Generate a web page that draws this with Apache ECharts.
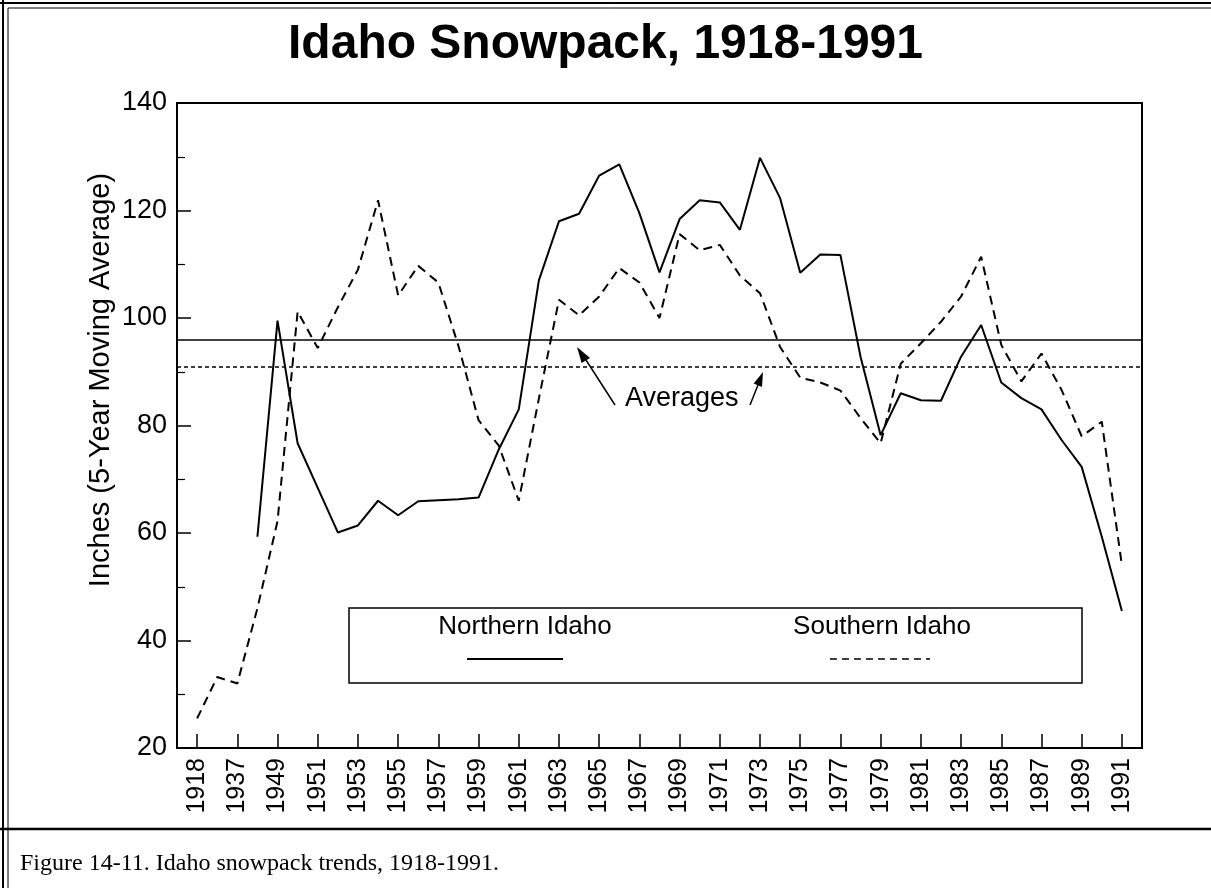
<!DOCTYPE html>
<html>
<head>
<meta charset="utf-8">
<title>Idaho Snowpack</title>
<script src="https://cdn.jsdelivr.net/npm/echarts@6/dist/echarts.min.js"></script>
<style>
  html, body { margin: 0; padding: 0; background: #fff; }
  #chart { width: 1211px; height: 888px; }
</style>
</head>
<body>
<div id="chart"></div>
<script>
// years on the x axis (two early ones are unlabelled)
var years = ['1918', '1936', '1937', '1948', '1949', '1950', '1951', '1952', '1953', '1954',
  '1955', '1956', '1957', '1958', '1959', '1960', '1961', '1962', '1963', '1964',
  '1965', '1966', '1967', '1968', '1969', '1970', '1971', '1972', '1973', '1974',
  '1975', '1976', '1977', '1978', '1979', '1980', '1981', '1982', '1983', '1984',
  '1985', '1986', '1987', '1988', '1989', '1990', '1991'];

// inches, 5-year moving average
var northern = [null, null, null, 59.3, 99.5, 76.7, 68.4, 60.1, 61.4, 66.0,
  63.3, 65.9, 66.1, 66.3, 66.6, 75.5, 83.0, 107.0, 118.0, 119.4,
  126.5, 128.6, 119.5, 108.5, 118.4, 121.9, 121.5, 116.4, 129.8, 122.3,
  108.4, 111.8, 111.7, 92.8, 78.2, 86.0, 84.7, 84.6, 92.8, 98.7,
  88.0, 85.1, 83.0, 77.3, 72.3, 59.3, 45.5];
var southern = [25.5, 33.2, 32.0, 46.0, 62.2, 101.2, 94.4, 102.0, 109.0, 121.9,
  104.2, 109.7, 106.6, 94.8, 81.0, 76.3, 66.0, 85.0, 103.4, 100.5,
  104.0, 109.3, 106.6, 100.0, 115.6, 112.6, 113.6, 107.9, 104.6, 94.6,
  88.9, 88.0, 86.5, 81.4, 76.7, 91.5, 95.3, 99.3, 104.0, 111.4,
  95.0, 88.2, 93.4, 86.6, 78.0, 80.7, 54.0];

var northernAvg = 96;
var southernAvg = 91;

var yTicks = [20, 40, 60, 80, 100, 120, 140];

var FONT = '"Liberation Sans", Arial, Helvetica, sans-serif';

// one empty slot at each end so the lines sit one step in from the frame
var cats = [''].concat(years, ['']);
function pad(arr) { return [null].concat(arr, [null]); }
function showTick(i) { return i % 2 === 1 && i <= years.length; }

var chart = echarts.init(document.getElementById('chart'));

var option = {
  animation: false,
  backgroundColor: '#fff',
  title: {
    text: 'Idaho Snowpack, 1918-1991',
    left: 'center',
    top: 16,
    textStyle: { fontFamily: FONT, fontSize: 48, fontWeight: 'bold', color: '#000' }
  },
  grid: {
    left: 177, right: 69, top: 103, bottom: 140,
    show: true, borderColor: '#000', borderWidth: 2
  },
  xAxis: {
    type: 'category',
    data: cats,
    boundaryGap: false,
    axisLine: { lineStyle: { color: '#000', width: 2 } },
    axisTick: { inside: true, length: 14, interval: showTick, lineStyle: { color: '#000', width: 1.5 } },
    axisLabel: {
      interval: showTick, rotate: 90, margin: 10,
      fontFamily: FONT, fontSize: 25, color: '#000'
    },
    splitLine: { show: false }
  },
  yAxis: {
    type: 'value',
    min: yTicks[0],
    max: yTicks[yTicks.length - 1],
    interval: yTicks[1] - yTicks[0],
    axisLine: { show: true, lineStyle: { color: '#000', width: 2 } },
    axisTick: { show: true, inside: true, length: 14, lineStyle: { color: '#000', width: 1.5 } },
    minorTick: { show: true, splitNumber: 2, length: 8, lineStyle: { color: '#000', width: 1.2 } },
    axisLabel: { fontFamily: FONT, fontSize: 27, color: '#000', margin: 10 },
    splitLine: { show: false }
  },
  series: [
    {
      name: 'Northern Idaho',
      type: 'line',
      data: pad(northern),
      symbol: 'none',
      lineStyle: { color: '#000', width: 2 },
      markLine: {
        silent: true, symbol: 'none', label: { show: false },
        lineStyle: { color: '#000', type: 'solid', width: 1.5 },
        data: [{ yAxis: northernAvg }]
      }
    },
    {
      name: 'Southern Idaho',
      type: 'line',
      data: pad(southern),
      symbol: 'none',
      lineStyle: { color: '#000', width: 2, type: [9, 6] },
      markLine: {
        silent: true, symbol: 'none', label: { show: false },
        lineStyle: { color: '#000', type: [4, 3], width: 1.5 },
        data: [{ yAxis: southernAvg }]
      }
    }
  ],
  graphic: [
    // page frame
    { type: 'line', shape: { x1: 0, y1: 3, x2: 1211, y2: 3 }, style: { stroke: '#000', lineWidth: 2 } },
    { type: 'line', shape: { x1: 8, y1: 8, x2: 1211, y2: 8 }, style: { stroke: '#000', lineWidth: 1 } },
    { type: 'line', shape: { x1: 3, y1: 0, x2: 3, y2: 888 }, style: { stroke: '#000', lineWidth: 2 } },
    { type: 'line', shape: { x1: 8, y1: 8, x2: 8, y2: 888 }, style: { stroke: '#000', lineWidth: 1 } },
    { type: 'line', shape: { x1: 0, y1: 829, x2: 1211, y2: 829 }, style: { stroke: '#000', lineWidth: 2.5 } },
    {
      type: 'text', left: 20, top: 852,
      style: { text: 'Figure 14-11. Idaho snowpack trends, 1918-1991.', font: '24px "Liberation Serif", "Times New Roman", serif', fill: '#000' }
    },
    // y axis title, set a little above the middle as in the original
    {
      type: 'text', x: 101, y: 380, rotation: Math.PI / 2,
      style: { text: 'Inches (5-Year Moving Average)', font: '29px ' + FONT, fill: '#000', textAlign: 'center', textVerticalAlign: 'middle' }
    },
    // legend box
    { type: 'rect', shape: { x: 349, y: 608, width: 733, height: 75 }, style: { fill: 'none', stroke: '#000', lineWidth: 1.5 } },
    {
      type: 'text', x: 525, y: 627,
      style: { text: 'Northern Idaho', font: '26px ' + FONT, fill: '#000', textAlign: 'center', textVerticalAlign: 'middle' }
    },
    { type: 'line', shape: { x1: 467, y1: 659, x2: 563, y2: 659 }, style: { stroke: '#000', lineWidth: 2 } },
    {
      type: 'text', x: 882, y: 627,
      style: { text: 'Southern Idaho', font: '26px ' + FONT, fill: '#000', textAlign: 'center', textVerticalAlign: 'middle' }
    },
    { type: 'line', shape: { x1: 830, y1: 659, x2: 930, y2: 659 }, style: { stroke: '#000', lineWidth: 1.5, lineDash: [7, 5] } },
    // "Averages" note with arrows
    {
      type: 'text', x: 625, y: 399,
      style: { text: 'Averages', font: '27px ' + FONT, fill: '#000', textVerticalAlign: 'middle' }
    },
    { type: 'line', shape: { x1: 615, y1: 405, x2: 586, y2: 360 }, style: { stroke: '#000', lineWidth: 1.5 } },
    { type: 'polygon', shape: { points: [[577, 347], [590, 358], [581.6, 363]] }, style: { fill: '#000' } },
    { type: 'line', shape: { x1: 750, y1: 405, x2: 758, y2: 385 }, style: { stroke: '#000', lineWidth: 1.5 } },
    { type: 'polygon', shape: { points: [[763, 372], [762, 387], [753.7, 383.4]] }, style: { fill: '#000' } }
  ]
};

chart.setOption(option);
window.addEventListener('resize', function () { chart.resize(); });
</script>
</body>
</html>
